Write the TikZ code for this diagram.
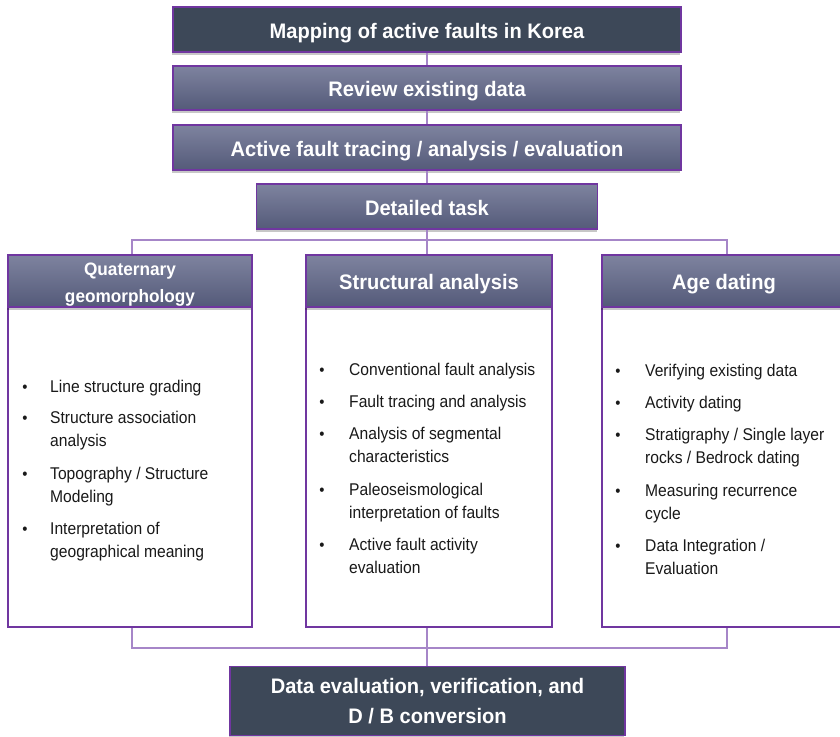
\documentclass[tikz,border=0pt]{standalone}
\usepackage{fontspec}
\setmainfont{Liberation Sans}
\newfontfamily\hdfont{Liberation Sans}[FakeStretch=0.956]
\newfontfamily\bdfont{Liberation Sans}[FakeStretch=0.92]
\usetikzlibrary{shadows}

\definecolor{slate}{RGB}{61,72,88}
\definecolor{gradtop}{RGB}{126,131,159}
\definecolor{gradbot}{RGB}{84,90,121}
\definecolor{edge}{RGB}{112,54,160}
\definecolor{wire}{RGB}{166,134,200}
\definecolor{ink}{RGB}{25,25,25}

\tikzset{
  boxbase/.style={draw=edge, line width=1.6pt, inner sep=0pt,
    general shadow={fill=black, opacity=0.22, shadow xshift=-1pt, shadow yshift=-2.5pt}},
  oneline/.style={text height=17pt, text depth=0pt},
  darkbox/.style={boxbase, fill=slate, text=white,
    font=\hdfont\bfseries\fontsize{21}{27}\selectfont, align=center},
  gradbox/.style={boxbase, top color=gradtop, bottom color=gradbot, text=white,
    font=\hdfont\bfseries\fontsize{21}{27}\selectfont, align=center},
  bodybox/.style={draw=edge, line width=1.6pt, fill=white, inner sep=0pt},
  conn/.style={draw=wire, line width=1.2pt},
  itemtext/.style={anchor=base west, inner sep=0pt, align=left, text=ink,
    font=\bdfont\fontsize{17}{23}\selectfont},
  bul/.style={anchor=base, inner sep=0pt, text=ink,
    font=\bdfont\fontsize{16}{23}\selectfont}
}

\begin{document}
\begin{tikzpicture}[x=1pt, y=-1pt]
\useasboundingbox (0,0) rectangle (840,736);

% main sequence
\node[darkbox, oneline, minimum width=508pt, minimum height=45pt] (mapping) at (427,29.5) {Mapping of active faults in Korea};
\node[gradbox, oneline, minimum width=508pt, minimum height=44pt] (review) at (427,88) {Review existing data};
\node[gradbox, oneline, minimum width=508pt, minimum height=45pt] (tracing) at (427,147.5) {Active fault tracing / analysis / evaluation};
\node[gradbox, oneline, minimum width=341pt, minimum height=45pt] (detail) at (427,206.5) {Detailed task};

% column bodies
\node[bodybox, minimum width=244pt, minimum height=320pt] (qbody) at (130,467) {};
\node[bodybox, minimum width=246pt, minimum height=320pt] (sbody) at (429,467) {};
\node[bodybox, minimum width=244pt, minimum height=320pt] (abody) at (724,467) {};

% column headers
\node[gradbox, minimum width=244pt, minimum height=52pt, text height=42.5pt, text depth=0pt,
      font=\hdfont\bfseries\fontsize{18}{27}\selectfont] (qhead) at (130,281) {Quaternary\\geomorphology};
\node[gradbox, oneline, minimum width=246pt, minimum height=52pt] (shead) at (429,281) {Structural analysis};
\node[gradbox, oneline, minimum width=244pt, minimum height=52pt] (ahead) at (724,281) {Age dating};

% final step
\node[darkbox, minimum width=395pt, minimum height=69pt, font=\hdfont\bfseries\fontsize{21}{30}\selectfont] (final) at (427.5,701) {Data evaluation, verification, and\\D / B conversion};

% connectors
\coordinate (busT) at (427,240);
\coordinate (busTL) at (132,240);
\coordinate (busTR) at (727,240);
\coordinate (busB) at (427,648);
\coordinate (busBL) at (132,648);
\coordinate (busBR) at (727,648);

\draw[conn] (mapping.south) -- (review.north);
\draw[conn] (review.south) -- (tracing.north);
\draw[conn] (tracing.south) -- (detail.north);
\draw[conn] (detail.south) -- (busT) -- (shead.north -| busT);
\draw[conn] (busTL |- qhead.north) -- (busTL) -- (busTR) -- (busTR |- ahead.north);
\draw[conn] (qbody.south -| busBL) -- (busBL) -- (busBR) -- (abody.south -| busBR);
\draw[conn] (sbody.south -| busB) -- (busB) -- (final.north -| busB);

% Quaternary geomorphology items (a node's base is the baseline of its last line)
\node[bul] (qb1) at (25,392) {\textbullet};
\node[itemtext] (q1) at (50,392) {Line structure grading};
\node[bul] (qb2) at (25,423) {\textbullet};
\node[itemtext] (q2) at (50,446) {Structure association\\analysis};
\node[bul] (qb3) at (25,479) {\textbullet};
\node[itemtext] (q3) at (50,502) {Topography / Structure\\Modeling};
\node[bul] (qb4) at (25,534) {\textbullet};
\node[itemtext] (q4) at (50,557) {Interpretation of\\geographical meaning};

% Structural analysis items
\node[bul] (sb1) at (322,375) {\textbullet};
\node[itemtext] (s1) at (349,375) {Conventional fault analysis};
\node[bul] (sb2) at (322,407) {\textbullet};
\node[itemtext] (s2) at (349,407) {Fault tracing and analysis};
\node[bul] (sb3) at (322,439) {\textbullet};
\node[itemtext] (s3) at (349,462) {Analysis of segmental\\characteristics};
\node[bul] (sb4) at (322,495) {\textbullet};
\node[itemtext] (s4) at (349,518) {Paleoseismological\\interpretation of faults};
\node[bul] (sb5) at (322,550) {\textbullet};
\node[itemtext] (s5) at (349,573) {Active fault activity\\evaluation};

% Age dating items
\node[bul] (ab1) at (618,376) {\textbullet};
\node[itemtext] (a1) at (645,376) {Verifying existing data};
\node[bul] (ab2) at (618,408) {\textbullet};
\node[itemtext] (a2) at (645,408) {Activity dating};
\node[bul] (ab3) at (618,440) {\textbullet};
\node[itemtext] (a3) at (645,463) {Stratigraphy / Single layer\\rocks / Bedrock dating};
\node[bul] (ab4) at (618,496) {\textbullet};
\node[itemtext] (a4) at (645,519) {Measuring recurrence\\cycle};
\node[bul] (ab5) at (618,551) {\textbullet};
\node[itemtext] (a5) at (645,574) {Data Integration /\\Evaluation};
\end{tikzpicture}
\end{document}
